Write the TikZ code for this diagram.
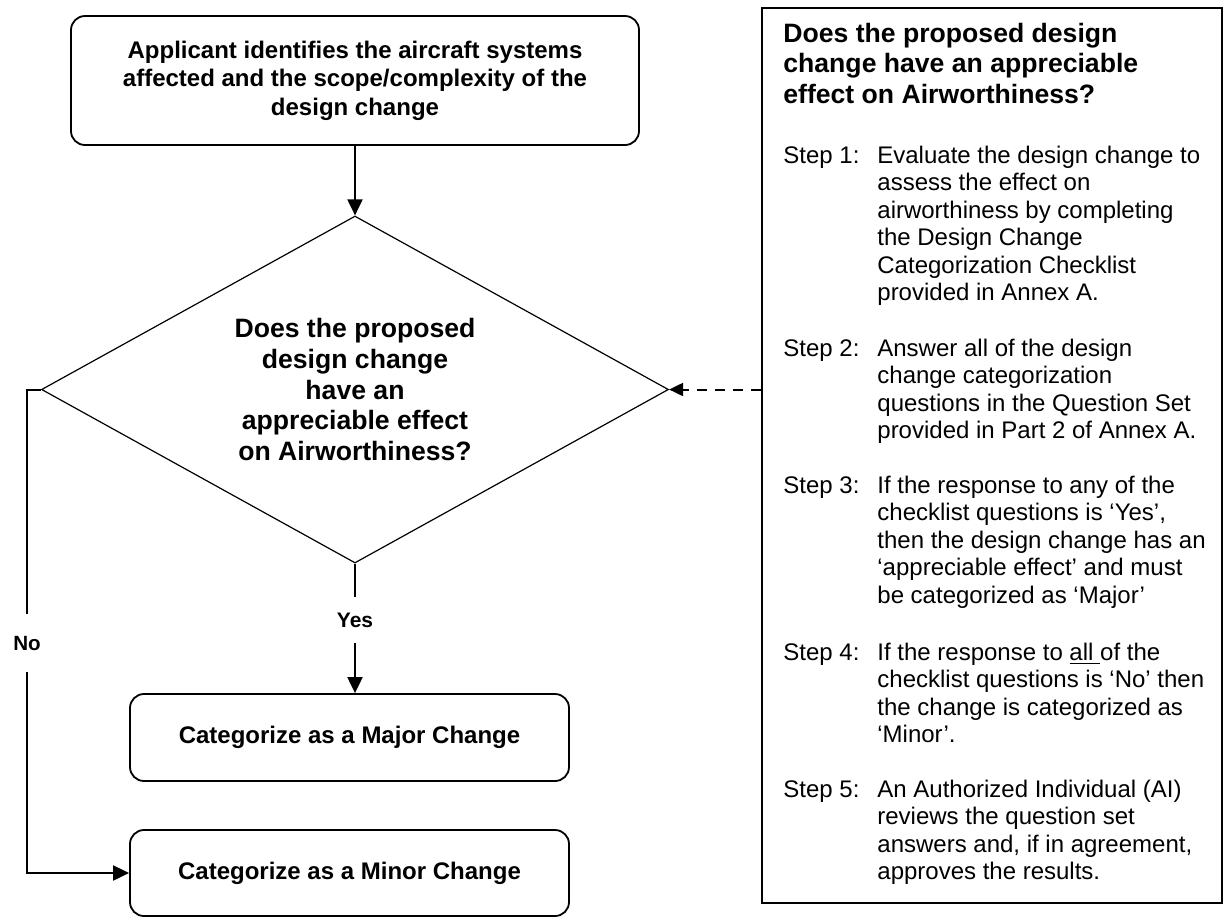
\documentclass[tikz,border=0pt]{standalone}
\usepackage{fontspec}
\setmainfont{Liberation Sans}
\usetikzlibrary{shapes.geometric,arrows.meta}

\newcommand{\stepentry}[2]{\makebox[47pt][l]{Step #1:}\parbox[t]{175pt}{\raggedright #2}}

\begin{document}
\begin{tikzpicture}[x=0.5pt,y=-0.5pt,
    box/.style={draw,rounded corners=7pt,line width=0.9pt,inner sep=0pt,align=center,
      font=\fontsize{12}{14.2}\selectfont\bfseries},
    decision/.style={draw,diamond,aspect=1.81,line width=0.6pt,inner sep=0pt,align=center,
      minimum width=313.5pt,minimum height=173.5pt,
      font=\fontsize{13.3}{15.4}\selectfont\bfseries},
    answer/.style={inner sep=0pt,font=\bfseries},
    flow/.style={line width=1pt,-{Triangle[length=8pt,width=7.5pt]}},
    plainflow/.style={line width=1pt},
    note/.style={inner sep=0pt,anchor=base west,
      font=\fontsize{12}{13.75}\selectfont}]
  \useasboundingbox (0,0) rectangle (1225,917);

  % flow chart
  \node[box,minimum width=284pt,minimum height=64.5pt] (apply) at (355,80.5)
    {Applicant identifies the aircraft systems\\
     affected and the scope/complexity of the\\
     design change};
  \node[decision] (dia) at (355,389.5)
    {Does the proposed\\ design change\\ have an\\ appreciable effect\\ on Airworthiness?};
  \node[box,minimum width=219.5pt,minimum height=43.5pt] (major) at (349.5,737.5)
    {Categorize as a Major Change};
  \node[box,minimum width=219.5pt,minimum height=43pt] (minor) at (349.5,873)
    {Categorize as a Minor Change};
  \node[answer,font=\fontsize{10.5}{12}\selectfont\bfseries,minimum height=23pt] (yes) at (355,620) {Yes};
  \node[answer,font=\fontsize{10.3}{12}\selectfont\bfseries,minimum height=29pt] (no) at (27,643) {No};

  \draw[flow] (apply.south) -- (dia.north);
  \draw[plainflow] (dia.south) -- (yes.north);
  \draw[flow] (yes.south) -- (yes.south |- major.north);
  \draw[plainflow] (dia.west) -- (dia.west -| no) -- (no.north);
  \draw[flow] (no.south) |- (minor.west);

  % steps box
  \node[draw,line width=0.9pt,inner sep=0pt,minimum width=230pt,minimum height=447.5pt] (steps) at (992,455.5) {};
  \draw[line width=1pt,dash pattern=on 5pt off 4pt,-{Triangle[length=7pt,width=6.5pt]}]
    (steps.west |- dia.east) -- (dia.east);

  \node[note,font=\fontsize{13.3}{15.4}\selectfont\bfseries] (title) at (783,42)
    {\parbox[t]{215pt}{Does the proposed design\\ change have an appreciable\\ effect on Airworthiness?}};
  \node[note] (s1) at (783,163) {\stepentry{1}{Evaluate the design change to\\ assess the effect on\\
    airworthiness by completing\\ the Design Change\\ Categorization Checklist\\ provided in Annex A.}};
  \node[note] (s2) at (783,356) {\stepentry{2}{Answer all of the design\\ change categorization\\
    questions in the Question Set\\ provided in Part 2 of Annex A.}};
  \node[note] (s3) at (783,493) {\stepentry{3}{If the response to any of the\\ checklist questions is ‘Yes’,\\
    then the design change has an\\ ‘appreciable effect’ and must\\ be categorized as ‘Major’}};
  \node[note] (s4) at (783,660) {\stepentry{4}{If the response to \underline{all\ }of the\\ checklist questions is ‘No’ then\\
    the change is categorized as\\ ‘Minor’.}};
  \node[note] (s5) at (783,797) {\stepentry{5}{An Authorized Individual (AI)\\ reviews the question set\\
    answers and, if in agreement,\\ approves the results.}};
\end{tikzpicture}
\end{document}
